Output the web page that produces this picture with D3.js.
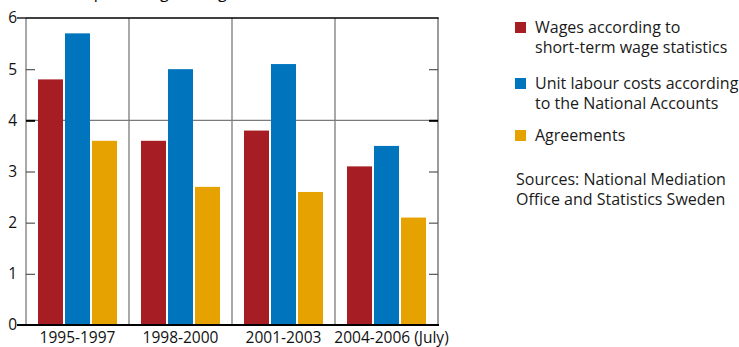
<!DOCTYPE html>
<html>
<head>
<meta charset="utf-8">
<script src="https://cdn.jsdelivr.net/npm/d3@7"></script>
<style>
  html, body { margin: 0; padding: 0; background: #fff; }
  svg { display: block; font-family: "Open Sans", "Noto Sans", sans-serif; }
</style>
</head>
<body>
<svg id="chart" width="739" height="347"></svg>
<script>
// Periods along the x axis
const periods = ["1995-1997", "1998-2000", "2001-2003", "2004-2006 (July)"];
// Annual percentage change per series
const wages = [4.8, 3.6, 3.8, 3.1];
const unitLabourCosts = [5.7, 5.0, 5.1, 3.5];
const agreements = [3.6, 2.7, 2.6, 2.1];
const seriesNames = [
  ["Wages according to", "short-term wage statistics"],
  ["Unit labour costs according", "to the National Accounts"],
  ["Agreements"]
];
const yTicks = [0, 1, 2, 3, 4, 5, 6];
const title = "Annual percentage change";
const sourceLines = ["Sources: National Mediation", "Office and Statistics Sweden"];

const colors = ["#a61d24", "#0075be", "#e6a200"];
const series = [wages, unitLabourCosts, agreements];

const svg = d3.select("#chart");
const plot = { left: 26, right: 438, top: 18, bottom: 325 };

const x = d3.scaleBand().domain(periods).range([plot.left, plot.right]).paddingInner(0).paddingOuter(0);
const y = d3.scaleLinear().domain([0, 6]).range([plot.bottom, plot.top]);
const inner = d3.scaleBand().domain(d3.range(series.length))
  .range([0, x.bandwidth()]).paddingInner(0.074).paddingOuter(0.444);

// Title, sitting mostly above the visible area
svg.append("text").attr("x", 37).attr("y", -2)
  .attr("font-size", 16).attr("fill", "#000").text(title);

// Grid: vertical period separators and the line at 4
const grid = svg.append("g");
periods.slice(1).forEach(p => {
  grid.append("line").attr("x1", x(p)).attr("x2", x(p))
    .attr("y1", plot.top).attr("y2", plot.bottom)
    .attr("stroke", "#7a7a7a").attr("stroke-width", 1.3);
});
grid.append("line").attr("x1", plot.left).attr("x2", plot.right)
  .attr("y1", y(4)).attr("y2", y(4))
  .attr("stroke", "#7a7a7a").attr("stroke-width", 1.3);

// Bars
periods.forEach((p, i) => {
  series.forEach((s, k) => {
    svg.append("rect")
      .attr("x", x(p) + inner(k))
      .attr("y", y(s[i]))
      .attr("width", inner.bandwidth())
      .attr("height", y(0) - y(s[i]))
      .attr("fill", colors[k]);
  });
});

// Frame
svg.append("line").attr("x1", plot.left).attr("x2", plot.left)
  .attr("y1", plot.top).attr("y2", plot.bottom).attr("stroke", "#7a7a7a").attr("stroke-width", 1.3);
svg.append("line").attr("x1", plot.right).attr("x2", plot.right)
  .attr("y1", plot.top).attr("y2", plot.bottom).attr("stroke", "#7a7a7a").attr("stroke-width", 1.5);
svg.append("line").attr("x1", plot.left).attr("x2", plot.right + 0.7)
  .attr("y1", plot.top).attr("y2", plot.top).attr("stroke", "#000").attr("stroke-width", 1.3);

// Left axis with inward ticks
const leftAxis = svg.append("g").attr("transform", `translate(${plot.left},0)`)
  .call(d3.axisLeft(y).tickValues(yTicks).tickSize(-9).tickPadding(9).tickFormat(d3.format("d")));
leftAxis.select(".domain").remove();
leftAxis.selectAll(".tick line").attr("stroke", d => (d === 4 ? "#000" : "#555"))
  .attr("stroke-width", d => (d === 4 ? 2 : 1.2));
leftAxis.selectAll(".tick text").attr("font-size", 15.5).attr("fill", "#111")
  .attr("font-family", "Open Sans, Noto Sans, sans-serif");
leftAxis.selectAll(".tick").filter(d => d === 0 || d === 6).select("line").remove();

// Right axis with inward ticks
const rightAxis = svg.append("g").attr("transform", `translate(${plot.right},0)`)
  .call(d3.axisRight(y).tickValues(yTicks.filter(d => d > 0 && d < 6)).tickSize(-9).tickFormat(""));
rightAxis.select(".domain").remove();
rightAxis.selectAll(".tick line").attr("stroke", d => (d === 4 ? "#000" : "#555"))
  .attr("stroke-width", d => (d === 4 ? 2 : 1.2));

// Baseline
svg.append("line").attr("x1", plot.left - 9).attr("x2", plot.right + 1)
  .attr("y1", y(0)).attr("y2", y(0)).attr("stroke", "#000").attr("stroke-width", 2);
svg.append("line").attr("x1", plot.left - 9).attr("x2", plot.left)
  .attr("y1", y(6)).attr("y2", y(6)).attr("stroke", "#000").attr("stroke-width", 1.3);

// Bottom axis labels
const bottomAxis = svg.append("g").attr("transform", `translate(0,${plot.bottom})`)
  .call(d3.axisBottom(x).tickSize(0).tickPadding(7));
bottomAxis.select(".domain").remove();
bottomAxis.selectAll(".tick text").attr("font-size", 15.5).attr("fill", "#111")
  .attr("font-family", "Open Sans, Noto Sans, sans-serif")
  .attr("dx", d => (d === periods[3] ? 5 : 0));

// Legend
const legend = svg.append("g");
const legendRows = [22, 78, 130];
seriesNames.forEach((lines, k) => {
  legend.append("rect").attr("x", 515).attr("y", legendRows[k])
    .attr("width", 11).attr("height", 11).attr("fill", colors[k]);
  lines.forEach((t, j) => {
    legend.append("text").attr("x", 535).attr("y", legendRows[k] + 11 + j * 20)
      .attr("font-size", 16).attr("fill", "#1a1a1a").text(t);
  });
});
sourceLines.forEach((t, j) => {
  legend.append("text").attr("x", 516).attr("y", 184.5 + j * 20)
    .attr("font-size", 16).attr("fill", "#1a1a1a").text(t);
});
</script>
</body>
</html>
